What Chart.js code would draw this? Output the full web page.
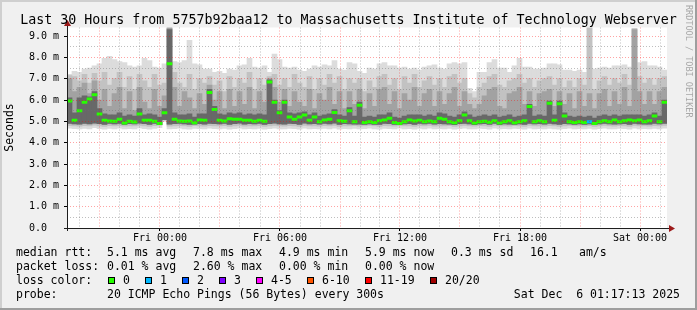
<!DOCTYPE html>
<html><head><meta charset="utf-8">
<style>html,body{margin:0;padding:0;background:#f0f0f0;overflow:hidden}canvas{display:block}</style>
<script src="https://cdn.jsdelivr.net/npm/chart.js@4.4.1/dist/chart.umd.min.js"></script>
</head><body>
<canvas id="c" width="697" height="310"></canvas>
<script>
// ---- sample grid: 15-minute steps starting Thu 19:21 (hours since Thu 00:00)
const startHour = 19.35;
const stepHours = 0.25;
const spanHours = 30;

// ---- x-axis labels
const xTickHours = [24, 30, 36, 42, 48];
const xTickLabels = ['Fri 00:00', 'Fri 06:00', 'Fri 12:00', 'Fri 18:00', 'Sat 00:00'];
// ---- y-axis labels (milliseconds shown as "m")
const yTickValues = [0, 1, 2, 3, 4, 5, 6, 7, 8, 9];
const yTickLabels = ['0.0  ', '1.0 m', '2.0 m', '3.0 m', '4.0 m', '5.0 m', '6.0 m', '7.0 m', '8.0 m', '9.0 m'];

// ---- median RTT (ms)
const median = [
 5.95,5.05,5.5,5.9,6.05,6.25,5.35,5.05,5.02,5.0,
 5.1,4.92,5.0,4.97,5.35,5.05,5.05,5.0,4.9,5.4,
 7.7,5.1,5.02,5.0,5.02,4.94,5.06,5.05,6.35,5.55,
 5.05,5.02,5.12,5.1,5.1,5.05,5.05,5.0,5.05,5.0,
 6.85,5.9,5.4,5.9,5.2,5.1,5.2,5.3,5.05,5.2,
 4.98,5.06,5.1,5.42,5.03,5.0,5.5,4.98,5.75,4.95,
 4.98,4.95,5.03,5.06,5.15,4.95,4.9,4.98,5.06,5.02,
 5.05,4.98,5.02,4.98,5.15,5.1,4.98,4.94,5.03,5.3,
 5.03,4.92,4.98,5.0,4.96,5.03,4.92,4.98,5.03,4.94,
 4.98,5.03,5.7,4.98,5.03,4.98,5.85,5.05,5.83,5.25,
 4.98,4.95,4.98,4.95,4.98,4.9,4.98,5.03,4.98,5.06,
 4.98,5.03,5.06,5.03,5.06,4.98,5.03,5.25,4.98,5.9
];
// ---- lost pings per sample (out of 20)
const lost = [
 0,0,0,0,0,0,0,0,0,0, 0,0,0,0,0,0,0,0,0,0, 0,0,0,0,0,0,0,0,0,0,
 0,0,0,0,0,0,0,0,0,0, 0,0,0,0,0,0,0,0,0,0, 0,0,0,0,0,0,0,0,0,0,
 0,0,0,0,0,0,0,0,0,0, 0,0,0,0,0,0,0,0,0,0, 0,0,0,0,0,0,0,0,0,0,
 0,0,0,0,0,0,0,0,0,0, 0,0,0,0,1,0,0,0,0,0, 0,0,0,0,0,0,0,0,0,0
];
// ---- smoke: outermost (lightest) upper edge
const smokeTop1 = [
 7.2,7.35,7.3,7.45,7.5,7.6,7.7,7.95,8.05,7.9,
 7.8,7.75,7.6,7.55,7.6,7.95,7.85,7.55,7.5,7.7,
 9.4,7.8,7.75,7.85,8.8,7.7,7.65,7.45,7.45,7.3,
 7.35,7.25,7.45,7.4,7.6,7.65,7.95,7.55,7.5,7.6,
 7.3,8.15,7.9,7.55,7.5,7.55,7.4,7.35,7.45,7.6,
 7.55,7.65,7.6,7.85,7.45,7.4,7.75,7.7,7.35,7.25,
 7.5,7.45,7.7,7.75,7.6,7.6,7.5,7.55,7.45,7.5,
 7.4,7.55,7.6,7.65,7.5,7.45,7.7,7.75,7.7,7.75,
 6.55,6.4,7.3,7.3,7.75,7.9,7.5,7.5,7.3,7.6,
 7.95,7.55,7.55,7.45,7.45,7.5,7.7,7.7,7.65,7.4,
 7.4,7.35,7.4,7.3,9.4,7.45,7.5,7.55,7.5,7.6,
 7.6,7.65,7.55,9.35,7.75,7.8,7.6,7.6,7.55,7.4
];
const smokeTop2 = [
 7.15,7.1,6.9,7.2,6.8,7.25,6.9,7.3,6.7,7.0,
 7.3,6.6,7.1,6.5,7.2,6.9,6.6,7.2,6.7,6.8,
 9.4,7.3,6.8,6.6,7.2,6.5,7.0,6.8,7.1,6.7,
 6.9,6.4,7.1,6.6,7.0,6.8,7.3,6.5,7.0,6.7,
 7.1,7.2,6.7,7.0,6.6,7.2,6.8,6.6,7.1,6.5,
 7.0,6.7,7.2,6.8,7.1,6.5,7.0,6.8,7.0,6.4,
 6.9,6.6,7.1,7.2,6.7,7.0,6.5,7.1,6.8,7.2,
 6.6,6.9,7.1,6.7,7.0,6.6,7.1,7.2,6.8,7.0,
 6.3,6.1,6.6,6.8,7.1,7.2,6.7,6.6,6.9,7.0,
 7.2,6.8,7.0,6.6,6.9,7.0,7.1,6.7,7.0,6.6,
 6.9,6.6,7.0,6.7,9.4,6.5,6.9,7.1,6.7,7.0,
 6.8,7.2,6.7,9.35,7.1,6.8,7.0,6.7,7.0,7.1
];
const smokeTop3 = [
 7.0,6.4,6.6,6.8,6.3,6.9,6.0,6.5,5.7,6.3,
 6.6,5.6,6.4,5.5,6.6,5.9,5.6,6.5,5.7,6.2,
 9.38,6.6,5.7,6.4,6.1,5.6,6.3,5.8,6.7,6.0,
 6.4,5.6,6.5,5.7,6.4,5.8,6.6,5.6,6.4,5.9,
 7.0,6.6,5.9,6.5,5.7,6.4,5.9,5.7,6.5,5.6,
 6.3,6.0,6.6,5.8,6.4,5.6,6.4,5.8,6.5,5.6,
 6.3,5.7,6.5,6.6,5.8,6.4,5.6,6.3,6.0,6.6,
 5.7,6.3,6.5,5.7,6.4,5.8,6.3,6.6,5.7,6.4,
 5.8,5.6,5.8,6.2,6.5,6.6,5.7,5.6,6.3,6.4,
 6.6,5.8,6.4,5.7,6.3,6.4,6.5,5.7,6.4,5.8,
 6.3,5.6,6.4,5.7,6.3,5.6,6.3,6.5,5.7,6.4,
 5.8,6.6,5.7,9.3,6.4,5.8,6.4,5.8,6.4,6.6
];
const smokeTop4 = [
 6.1,5.4,6.1,6.2,6.15,6.4,5.6,5.35,5.3,5.3,
 5.4,5.25,5.3,5.25,5.6,5.3,5.35,5.3,5.2,5.6,
 9.3,5.4,5.3,5.3,5.35,5.2,5.35,5.35,6.5,5.7,
 5.35,5.3,5.4,5.35,5.4,5.3,5.35,5.3,5.35,5.3,
 6.95,6.0,5.5,6.0,5.4,5.35,5.4,5.45,5.3,5.4,
 5.25,5.3,5.35,5.55,5.3,5.25,5.65,5.25,5.9,5.2,
 5.25,5.2,5.3,5.3,5.4,5.2,5.15,5.25,5.3,5.3,
 5.3,5.25,5.3,5.25,5.4,5.35,5.25,5.2,5.3,5.45,
 5.3,5.2,5.25,5.3,5.25,5.3,5.2,5.25,5.3,5.2,
 5.25,5.3,5.8,5.25,5.3,5.25,5.95,5.3,5.95,5.4,
 5.25,5.2,5.25,5.2,5.25,5.15,5.25,5.3,5.25,5.3,
 5.25,5.3,5.3,5.3,5.3,5.25,5.3,5.4,5.25,6.0
];
// ---- smoke lower edges
const smokeLow1 = [
 4.68,4.66,4.64,4.67,4.65,4.7,4.66,4.63,4.67,4.65,
 4.68,4.64,4.66,4.65,4.69,4.66,4.63,4.67,4.7,5.0,
 4.64,4.66,4.68,4.65,4.63,4.67,4.66,4.64,4.68,4.66,
 4.65,4.67,4.63,4.66,4.68,4.64,4.66,4.65,4.67,4.63,
 4.66,4.68,4.65,4.64,4.67,4.66,4.63,4.68,4.65,4.66,
 4.64,4.67,4.65,4.68,4.63,4.66,4.65,4.67,4.64,4.66,
 4.68,4.65,4.63,4.67,4.66,4.64,4.68,4.65,4.66,4.63,
 4.67,4.65,4.68,4.64,4.66,4.65,4.67,4.63,4.66,4.68,
 4.65,4.64,4.67,4.66,4.63,4.68,4.65,4.66,4.64,4.67,
 4.66,4.63,4.68,4.65,4.66,4.64,4.67,4.65,4.63,4.66,
 4.68,4.65,4.66,4.64,4.67,4.63,4.66,4.68,4.65,4.64,
 4.67,4.66,4.63,4.68,4.65,4.66,4.64,4.67,4.65,4.68
];
const smokeLow2 = [
 4.8,4.78,4.77,4.8,4.78,4.82,4.79,4.76,4.8,4.78,
 4.8,4.77,4.79,4.78,4.81,4.79,4.76,4.8,4.82,5.05,
 4.77,4.79,4.8,4.78,4.76,4.8,4.79,4.77,4.8,4.79,
 4.78,4.8,4.76,4.79,4.81,4.77,4.79,4.78,4.8,4.76,
 4.79,4.81,4.78,4.77,4.8,4.79,4.76,4.81,4.78,4.79,
 4.77,4.8,4.78,4.81,4.76,4.79,4.78,4.8,4.77,4.79,
 4.81,4.78,4.76,4.8,4.79,4.77,4.8,4.78,4.79,4.76,
 4.8,4.78,4.81,4.77,4.79,4.78,4.8,4.76,4.79,4.81,
 4.78,4.77,4.8,4.79,4.76,4.81,4.78,4.79,4.77,4.8,
 4.79,4.76,4.81,4.78,4.79,4.77,4.8,4.78,4.76,4.79,
 4.81,4.78,4.79,4.77,4.8,4.76,4.79,4.81,4.78,4.77,
 4.8,4.79,4.76,4.81,4.78,4.79,4.77,4.8,4.78,4.81
];
const smokeLow3 = [
 4.9,4.88,4.87,4.9,4.88,4.91,4.89,4.86,4.9,4.88,
 4.9,4.86,4.89,4.88,4.91,4.89,4.86,4.9,4.85,5.08,
 4.87,4.89,4.9,4.88,4.86,4.87,4.89,4.87,4.9,4.89,
 4.88,4.9,4.86,4.89,4.91,4.87,4.89,4.88,4.9,4.86,
 4.89,4.91,4.88,4.87,4.9,4.89,4.86,4.91,4.88,4.89,
 4.87,4.9,4.88,4.91,4.86,4.89,4.88,4.87,4.87,4.86,
 4.88,4.86,4.86,4.9,4.89,4.86,4.84,4.88,4.89,4.86,
 4.9,4.88,4.9,4.87,4.89,4.88,4.87,4.85,4.89,4.9,
 4.88,4.85,4.88,4.89,4.86,4.9,4.85,4.88,4.87,4.86,
 4.88,4.86,4.9,4.88,4.89,4.87,4.9,4.88,4.86,4.89,
 4.88,4.86,4.88,4.86,4.88,4.84,4.88,4.9,4.88,4.87,
 4.88,4.89,4.86,4.9,4.88,4.87,4.87,4.9,4.88,4.9
];

// ---- legend
const lossLabels = ['0', '1', '2', '3', '4-5', '6-10', '11-19', '20/20'];
const lossColors = ['#26ff00', '#00b8ff', '#0059ff', '#7e00ff', '#ff00ff', '#ff5500', '#ff0000', '#a00000'];
const lossIndex = [0, 1, 2, 3, 4, 4, 5, 5, 5, 5, 5, 6, 6, 6, 6, 6, 6, 6, 6, 6, 7];
const titleText = 'Last 30 Hours from 5757b92baa12 to Massachusetts Institute of Technology Webserver';
const rttLegend = ['median rtt:', '5.1 ms avg', '7.8 ms max', '4.9 ms min', '5.9 ms now', '0.3 ms sd', '16.1', 'am/s'];
const lossLegend = ['packet loss:', '0.01 % avg', '2.60 % max', '0.00 % min', '0.00 % now'];
const probeLegend = ['probe:', '20 ICMP Echo Pings (56 Bytes) every 300s'];
const stampText = 'Sat Dec  6 01:17:13 2025';
const yTitle = 'Seconds';
const creditText = 'RRDTOOL / TOBI OETIKER';

// ---- derived structures
const times = median.map((_, i) => startHour + stepHours * (i + 0.5));
const gridHours = [];
for (let h = Math.ceil(startHour); h <= startHour + spanHours; h++) gridHours.push(h);
const gridY = [];
for (let k = 0; k <= 18; k++) gridY.push(k * 0.5);

function band(lo, hi, color, order) {
  return {
    type: 'bar', order, grouped: false,
    data: times.map((x, i) => ({x, y: [lo[i], hi[i]]})),
    backgroundColor: color, borderWidth: 0,
    barPercentage: 1, categoryPercentage: 1
  };
}

const MONO = '"DejaVu Sans Mono", monospace';
const redGrid = 'rgba(255,0,0,0.36)';
const grayGrid = 'rgba(110,110,110,0.45)';

const decor = {
  id: 'decor',
  beforeDraw(chart) {
    const {ctx, chartArea: a} = chart;
    ctx.save();
    ctx.fillStyle = '#f0f0f0';
    ctx.fillRect(0, 0, chart.width, chart.height);
    ctx.fillStyle = '#ffffff';
    ctx.fillRect(a.left, a.top, a.right - a.left, a.bottom - a.top);
    ctx.restore();
  },
  afterDraw(chart) {
    const {ctx, chartArea: a} = chart;
    ctx.save();
    // axes
    ctx.strokeStyle = '#1e1e1e';
    ctx.lineWidth = 1;
    ctx.beginPath();
    ctx.moveTo(a.left - 3, a.bottom + 0.5);
    ctx.lineTo(a.right + 3, a.bottom + 0.5);
    ctx.moveTo(a.left + 0.5, a.bottom + 3);
    ctx.lineTo(a.left + 0.5, a.top - 3);
    ctx.stroke();
    ctx.fillStyle = '#9c1a1a';
    ctx.beginPath();
    ctx.moveTo(a.left + 0.5, a.top - 7.5);
    ctx.lineTo(a.left - 3, a.top - 1.5);
    ctx.lineTo(a.left + 4, a.top - 1.5);
    ctx.closePath(); ctx.fill();
    ctx.beginPath();
    ctx.moveTo(a.right + 8, a.bottom + 0.5);
    ctx.lineTo(a.right + 2, a.bottom - 3);
    ctx.lineTo(a.right + 2, a.bottom + 4);
    ctx.closePath(); ctx.fill();

    // title
    ctx.fillStyle = '#000';
    ctx.textBaseline = 'alphabetic';
    ctx.font = '13.3px ' + MONO;
    ctx.textAlign = 'center';
    ctx.fillText(titleText, chart.width / 2, 24);

    // legend rows
    ctx.font = '11.5px ' + MONO;
    ctx.textAlign = 'left';
    const cols = [16, 107, 193, 279, 365, 451, 530, 579];
    rttLegend.forEach((t, i) => ctx.fillText(t, cols[i], 256));
    lossLegend.forEach((t, i) => ctx.fillText(t, cols[i], 270));
    ctx.fillText('loss color:', 16, 284);
    let bx = 108;
    lossLabels.forEach((t, i) => {
      ctx.fillStyle = lossColors[i];
      ctx.fillRect(bx, 277, 7, 7);
      ctx.strokeStyle = '#000';
      ctx.strokeRect(bx + 0.5, 277.5, 6, 6);
      ctx.fillStyle = '#000';
      ctx.fillText(t, bx + 15, 284);
      bx += 37 + (t.length - 1) * 7;
    });
    ctx.fillText(probeLegend[0], 16, 298);
    ctx.fillText(probeLegend[1], 107, 298);
    ctx.textAlign = 'right';
    ctx.fillText(stampText, 680, 298);

    // y title
    ctx.save();
    ctx.translate(10.5, 127.5);
    ctx.rotate(-Math.PI / 2);
    ctx.textAlign = 'center';
    ctx.textBaseline = 'middle';
    ctx.fillText(yTitle, 0, 0);
    ctx.restore();

    // credit
    ctx.save();
    ctx.translate(688, 5);
    ctx.rotate(Math.PI / 2);
    ctx.textAlign = 'left';
    ctx.textBaseline = 'middle';
    ctx.font = '8.5px ' + MONO;
    ctx.fillStyle = '#a8a8a8';
    ctx.fillText(creditText, 0, 0);
    ctx.restore();

    // frame
    ctx.fillStyle = '#cfcfcf';
    ctx.fillRect(0, 0, chart.width, 2);
    ctx.fillRect(0, 0, 2, chart.height);
    ctx.fillStyle = '#9e9e9e';
    ctx.fillRect(chart.width - 2, 0, 2, chart.height);
    ctx.fillRect(0, chart.height - 2, chart.width, 2);
    ctx.restore();
  }
};

new Chart(document.getElementById('c'), {
  type: 'bar',
  data: {
    datasets: [
      {
        type: 'line', order: 0, showLine: false,
        data: times.map((x, i) => ({x, y: median[i]})),
        pointStyle: 'line', pointRadius: 2.8, pointHoverRadius: 2.8,
        pointBorderWidth: 3, pointHoverBorderWidth: 3,
        pointBorderColor: lost.map(l => lossColors[lossIndex[l]]),
        pointBackgroundColor: lost.map(l => lossColors[lossIndex[l]])
      },
      band(smokeLow3, smokeTop4, '#686868', 1),
      band(smokeLow3, smokeTop3, '#a2a2a2', 2),
      band(smokeLow2, smokeTop2, '#c2c2c2', 3),
      band(smokeLow1, smokeTop1, '#dcdcdc', 4)
    ]
  },
  options: {
    responsive: false,
    animation: false,
    devicePixelRatio: 1,
    events: [],
    layout: {padding: {left: 0, right: 30, top: 27.5, bottom: 0}},
    plugins: {legend: {display: false}, tooltip: {enabled: false}, title: {display: false}},
    scales: {
      x: {
        type: 'linear', min: startHour, max: startHour + spanHours,
        offset: false,
        afterBuildTicks: s => { s.ticks = gridHours.map(v => ({value: v})); },
        afterFit: s => { s.height = 82; },
        ticks: {
          autoSkip: false, maxRotation: 0, minRotation: 0, padding: 1,
          color: '#000', font: {family: MONO, size: 10, lineHeight: 1.2},
          callback: v => { const k = xTickHours.indexOf(v); return k >= 0 ? xTickLabels[k] : ''; }
        },
        grid: {
          offset: false, z: 1, lineWidth: 1, drawTicks: true, tickLength: 3,
          color: c => (c.tick && c.tick.value % 3 === 0) ? redGrid : grayGrid,
          tickColor: c => (c.tick && xTickHours.includes(c.tick.value)) ? '#000' : 'rgba(0,0,0,0)',
          tickBorderDash: []
        },
        border: {display: false, dash: [1, 2]}
      },
      y: {
        type: 'linear', min: 0, max: 9.4,
        afterBuildTicks: s => { s.ticks = gridY.map(v => ({value: v})); },
        afterFit: s => { s.width = 67; },
        ticks: {
          autoSkip: false, padding: 5,
          color: '#000', font: {family: MONO, size: 10, lineHeight: 1.2},
          callback: v => { const k = yTickValues.indexOf(v); return k >= 0 ? yTickLabels[k] : ''; }
        },
        grid: {
          z: 1, lineWidth: 1, drawTicks: true, tickLength: 3,
          color: c => (c.tick && Number.isInteger(c.tick.value)) ? redGrid : grayGrid,
          tickColor: c => (c.tick && Number.isInteger(c.tick.value)) ? '#000' : 'rgba(0,0,0,0)',
          tickBorderDash: []
        },
        border: {display: false, dash: [1, 2]}
      }
    }
  },
  plugins: [decor]
});
</script>
</body></html>
